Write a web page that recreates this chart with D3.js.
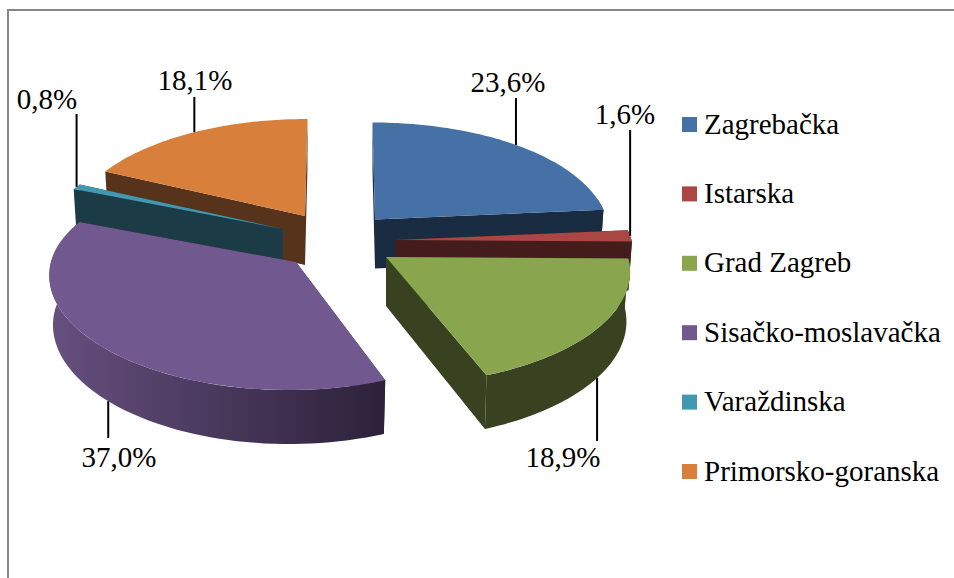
<!DOCTYPE html>
<html><head><meta charset="utf-8">
<script src="https://cdn.jsdelivr.net/npm/d3@7"></script>
<style>html,body{margin:0;padding:0;background:#fff}svg{display:block}text{font-family:"Liberation Serif",serif;fill:#000}</style>
</head><body><svg id="c" width="954" height="578"></svg>
<script>
const categories = ["Zagrebačka","Istarska","Grad Zagreb","Sisačko-moslavačka","Varaždinska","Primorsko-goranska"];
const values = [23.6,1.6,18.9,37.0,0.8,18.1];
const valueLabels = ["23,6%","1,6%","18,9%","37,0%","0,8%","18,1%"];
const topColors = ["#4571a7","#aa4643","#89a54e","#71588f","#4198af","#d8803b"];
const sideColors = ["#1a2c42","#431c1b","#384120","#2e2339","#1b3c47","#56331a"];

// layout (exploded slices)
const apexX = [375,395.5,386,296,283,305];
const apexY = [219.5,240,257,262,229,216];
const radiusX = [232,236,242,245,238,233];
const taper = [0.12,0.12,0.12,0.09,0.12,0.12];
const lean = [2.5,3.9,3.2,-7.5,-4,-2.5];
const labelX = [508,625,563,119,47,195];
const labelY = [92,124,467,467,109,90];
const labelGap = [98,130,441,438,114,97];
const drawOrder = [0,1,2,5,4,3];

const svg = d3.select("#c");
const defs = svg.append("defs");
const grad = defs.append("linearGradient").attr("id","wall3").attr("x1",0).attr("x2",1).attr("y1",0).attr("y2",0);
grad.append("stop").attr("offset",0).attr("stop-color","#66507f");
grad.append("stop").attr("offset",1).attr("stop-color","#2c2139");

// frame
svg.append("path").attr("d",d3.line()([[8,578],[8,10],[954,10]])).attr("fill","none").attr("stroke","#868686").attr("stroke-width",2);

const arcs = d3.pie().sort(null).value(d=>d).startAngle(0).endAngle(2*Math.PI)(values);

function topPt(i,a,r=1){
  const u=Math.sin(a)*r, v=-Math.cos(a)*r;
  return [apexX[i]+radiusX[i]*u*(1+taper[i]*v)+lean[i]*v,
          apexY[i]+112.5*v+15.5*v*v];
}
function botPt(i,a,r=1){
  const v=-Math.cos(a)*r, p=topPt(i,a,r);
  return [apexX[i]+(p[0]-apexX[i])*0.985, p[1]+49+5*Math.max(0,v)];
}
const samples=(a0,a1)=>d3.range(0,61).map(k=>a0+(a1-a0)*k/60);
const line=d3.line();

drawOrder.forEach(i=>{
  const a0=arcs[i].startAngle,a1=arcs[i].endAngle;
  const g=svg.append("g");
  const lo=Math.max(a0,Math.PI*0.44), hi=Math.min(a1,Math.PI*1.56);
  const side=i===3?"url(#wall3)":sideColors[i];
  // cut faces
  [a0,a1].forEach(a=>{
    g.append("path").attr("d",line([topPt(i,a,0),topPt(i,a),botPt(i,a),botPt(i,a,0)])+"Z").attr("fill",sideColors[i]);
  });
  // outer wall
  if(hi>lo){
    const s=samples(lo,hi);
    g.append("path").attr("d",line(s.map(a=>topPt(i,a)).concat(s.slice().reverse().map(a=>botPt(i,a))))+"Z").attr("fill",side);
  }
  // top face
  g.append("path").attr("d",line([[apexX[i],apexY[i]]].concat(samples(a0,a1).map(a=>topPt(i,a))))+"Z").attr("fill",topColors[i]);
});

// leaders and value labels
categories.forEach((c,i)=>{
  const mid=(arcs[i].startAngle+arcs[i].endAngle)/2;
  const front=labelY[i]>300;
  const p=front?botPt(i,mid):topPt(i,mid);
  svg.append("line").attr("x1",p[0]).attr("x2",p[0]).attr("y1",p[1]).attr("y2",labelGap[i]).attr("stroke","#000").attr("stroke-width",2);
  svg.append("text").attr("x",labelX[i]).attr("y",labelY[i]).attr("text-anchor","middle").attr("font-size",29).text(valueLabels[i]);
});

// legend
const ly=d3.scalePoint().domain(categories).range([124.5,471.5]);
categories.forEach((c,i)=>{
  svg.append("rect").attr("x",682).attr("y",ly(c)-7.5).attr("width",15).attr("height",15).attr("fill",topColors[i]);
  svg.append("text").attr("x",704).attr("y",ly(c)+9).attr("font-size",29).text(c);
});
</script></body></html>
